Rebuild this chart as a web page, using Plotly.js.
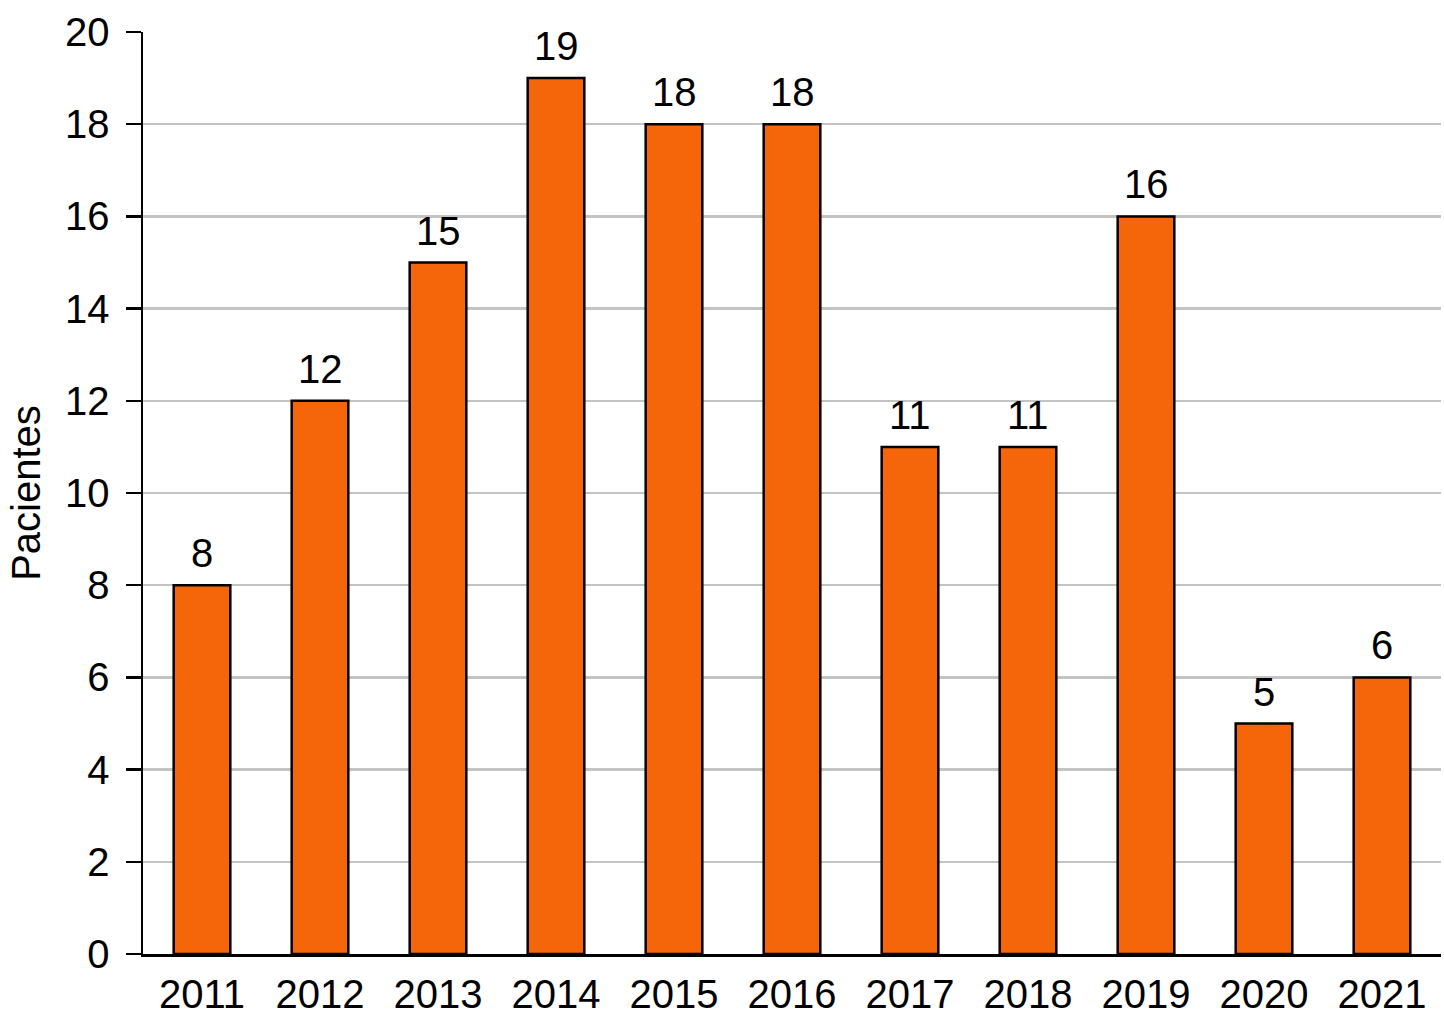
<!DOCTYPE html>
<html>
<head>
<meta charset="utf-8">
<script src="https://cdn.plot.ly/plotly-3.0.1.min.js"></script>
<style>html,body{margin:0;padding:0;background:#fff;}#chart{width:1444px;height:1024px;}</style>
</head>
<body>
<div id="chart"></div>
<script>
const years = ["2011","2012","2013","2014","2015","2016","2017","2018","2019","2020","2021"];
const patients = [8, 12, 15, 19, 18, 18, 11, 11, 16, 5, 6];
const yTicks = [0, 2, 4, 6, 8, 10, 12, 14, 16, 18, 20];

const FONT = '"Liberation Sans Narrow", "Arial Narrow", "Liberation Sans", Arial, sans-serif';
const FS = 40;

const trace = {
  type: 'bar',
  x: years,
  y: patients,
  cliponaxis: false,
  marker: {color: '#F5660A', line: {color: '#000', width: 2.5}},
  hoverinfo: 'x+y'
};

const annotations = years.map((yr, i) => ({
  x: i,
  y: patients[i],
  xref: 'x',
  yref: 'y',
  text: String(patients[i]),
  showarrow: false,
  yanchor: 'bottom',
  yshift: 8,
  font: {family: FONT, size: FS, color: '#000'}
}));

const layout = {
  width: 1444,
  height: 1024,
  margin: {l: 143, r: 3, t: 32, b: 70, pad: 0},
  paper_bgcolor: '#fff',
  plot_bgcolor: '#fff',
  bargap: 0.52,
  showlegend: false,
  font: {family: FONT, size: FS, color: '#000'},
  annotations: annotations,
  xaxis: {
    type: 'category',
    range: [-0.5, 10.5],
    showline: true,
    linecolor: '#000',
    linewidth: 2.5,
    ticks: '',
    showgrid: false,
    zeroline: false,
    ticklabelstandoff: 3,
    tickfont: {family: FONT, size: FS, color: '#000'}
  },
  yaxis: {
    range: [0, 20],
    tickvals: yTicks,
    ticktext: yTicks.map(String),
    showline: true,
    linecolor: '#000',
    linewidth: 2.5,
    ticks: 'outside',
    ticklen: 15,
    tickwidth: 2.5,
    tickcolor: '#000',
    showgrid: true,
    gridcolor: '#c4c4c4',
    gridwidth: 2.5,
    zeroline: false,
    ticklabelstandoff: 8,
    tickfont: {family: FONT, size: FS, color: '#000'},
    title: {text: 'Pacientes', font: {family: FONT, size: FS, color: '#000'}, standoff: 12}
  }
};

Plotly.newPlot('chart', [trace], layout, {staticPlot: true, displayModeBar: false});
</script>
</body>
</html>
